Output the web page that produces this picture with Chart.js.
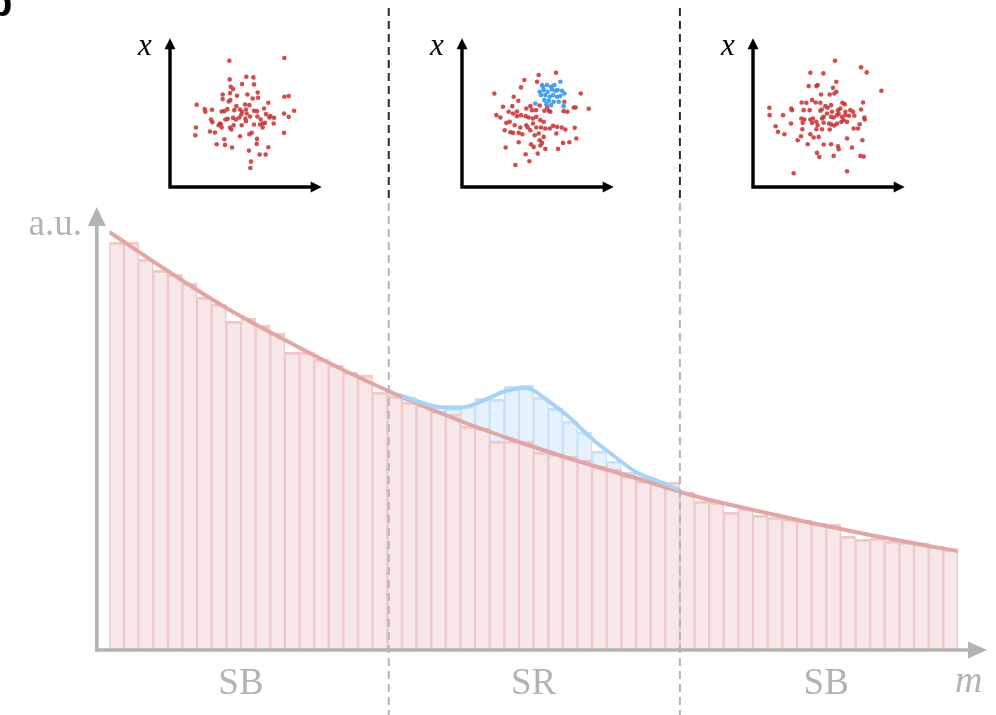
<!DOCTYPE html>
<html>
<head>
<meta charset="utf-8">
<script src="https://cdn.jsdelivr.net/npm/chart.js@4.4.1/dist/chart.umd.min.js"></script>
<style>
  html, body { margin: 0; padding: 0; background: #fff; }
  #wrap { position: relative; width: 996px; height: 715px; overflow: hidden; }
  #wrap canvas { position: absolute; }
</style>
</head>
<body>
<div id="wrap">
  <canvas id="main" width="996" height="715" style="left:0;top:0"></canvas>
  <canvas id="inset0" width="210" height="185"></canvas>
  <canvas id="inset1" width="210" height="185"></canvas>
  <canvas id="inset2" width="210" height="185"></canvas>
</div>
<script>
// ---- histogram in m: 58 equal-width bins, bin i spans [i, i+1] ----
const backgroundCounts = [
  407, 407, 390, 379, 375, 366, 352, 345, 328, 331,
  324, 316, 297, 297, 290, 284, 277, 274, 257, 253,
  247, 244, 238, 235, 223, 221, 208, 208, 208, 197,
  195, 193, 189, 183, 180, 173, 168, 167, 167, 157,
  148, 147, 137, 141, 134, 132, 130, 129, 126, 125,
  113, 110, 111, 108, 107, 106, 103, 100
];
// signal + background in the signal region (bins 19..37)
const srFirstBin = 19;
const totalCounts = [
  256, 252, 246, 243, 241, 243, 251, 250, 263, 264,
  252, 241, 228, 217, 198, 188, 177, 170, 168
];
// fitted background shape
const bkgFitM = [0, 4, 8, 12, 16, 20, 24, 28, 32, 36, 40, 44, 48, 52, 56, 58];
const bkgFitY = [417, 378, 341, 309, 279, 252, 228, 207, 188, 171, 153, 139, 126, 114, 103, 98];
// signal + background shape
const sbFitM = [20, 21, 22.5, 24, 25.5, 27, 28.5, 30, 31.5, 33, 34.5, 36, 37.5, 39];
const sbFitY = [253, 248, 242, 241.5, 248, 257.5, 261, 248, 231, 210, 193, 177, 168, 159];
// signal-region boundaries in m and region names
const srEdges = [19.1, 39];
const regionNames = ['SB', 'SR', 'SB'];
const regionCentres = [9, 29, 49];

// ---- feature scatter in each region ----
const sbLowPoints = [
  [178,378],[343,386],[229,330],[250,328],[179,322],[216,308],[252,307],[182,300],[189,293],[263,283],
  [158,277],[180,281],[201,273],[232,277],[248,265],[264,267],[343,270],[356,272],[158,263],[176,256],
  [181,260],[80,246],[199,242],[225,247],[238,245],[295,252],[104,233],[106,225],[126,231],[155,226],
  [163,227],[172,233],[193,230],[210,232],[216,225],[228,232],[230,220],[252,228],[261,227],[282,235],
  [288,218],[301,212],[312,207],[372,228],[342,220],[356,210],[123,202],[127,194],[146,185],[166,202],
  [173,204],[189,207],[198,202],[208,208],[214,217],[226,205],[240,211],[262,211],[272,202],[278,190],
  [285,192],[298,208],[311,190],[270,187],[78,178],[120,166],[135,163],[152,188],[155,178],[180,178],
  [184,172],[191,185],[215,185],[228,197],[252,187],[278,178],[76,155],[163,143],[210,152],[238,158],
  [245,162],[261,144],[342,162],[140,128],[165,126],[186,118],[260,129],[295,119],[237,109],[269,97],
  [287,97],[243,76],[241,57],[150,190]
];
const srBkgPoints = [
  [230,335],[282,342],[187,320],[225,315],[177,298],[97,280],[155,270],[169,258],[123,240],[151,242],
  [165,226],[193,235],[205,242],[210,230],[222,230],[233,244],[247,228],[260,228],[307,255],[316,225],
  [335,238],[341,238],[356,280],[380,234],[103,215],[115,208],[140,225],[153,220],[165,212],[177,215],
  [191,212],[200,208],[213,205],[223,210],[235,200],[245,195],[133,192],[143,195],[158,185],[175,178],
  [193,185],[197,178],[213,190],[223,178],[237,178],[250,175],[263,175],[273,183],[285,180],[299,178],
  [310,172],[338,177],[128,170],[145,164],[153,162],[170,162],[205,170],[230,160],[245,150],[283,160],
  [343,145],[170,134],[207,128],[215,120],[233,140],[240,132],[250,114],[288,114],[303,132],[322,134],
  [131,118],[191,98],[227,100],[160,66],[202,77],[235,124],[181,158],[218,155],[255,238],[265,225],
  [305,227]
];
const srSigPoints = [
  [240,305],[255,305],[267,300],[295,315],[233,285],[245,290],[257,285],[270,292],[280,288],[287,290],
  [300,288],[237,275],[250,275],[263,270],[273,275],[285,270],[295,272],[307,280],[247,260],[260,258],
  [275,255],[290,255],[220,250],[253,248],[267,245],[305,242],[243,300],[277,305]
];
const sbHighPoints = [
  [246,378],[324,358],[341,343],[172,342],[211,340],[250,315],[167,302],[190,302],[194,305],[240,297],
  [385,288],[250,285],[204,277],[230,277],[244,280],[177,260],[188,253],[202,252],[146,253],[160,252],
  [217,242],[234,245],[268,252],[275,248],[330,253],[49,237],[115,235],[117,230],[152,230],[170,230],
  [202,228],[206,232],[224,237],[255,230],[262,235],[277,225],[292,230],[300,225],[324,232],[50,215],
  [90,215],[145,205],[154,202],[172,202],[180,205],[190,195],[207,205],[212,210],[234,210],[242,208],
  [252,215],[257,220],[267,210],[277,215],[288,213],[304,213],[334,208],[335,202],[114,190],[149,192],
  [177,192],[194,185],[212,192],[228,190],[235,187],[244,184],[252,190],[265,195],[272,200],[282,195],
  [320,188],[68,182],[148,173],[190,173],[207,173],[230,172],[302,175],[315,175],[75,165],[94,158],
  [172,158],[182,148],[197,150],[144,152],[134,140],[282,145],[328,140],[164,128],[212,127],[234,128],
  [255,122],[257,113],[297,118],[192,102],[199,90],[242,93],[322,93],[332,91],[122,41],[282,47],
  [237,225],[222,220]
];

// ---- styling ----
const C = {
  bkgFill: '#f8e7e8', bkgEdge: '#efc8c9', bkgLine: '#e3a6a6',
  sigFill: '#e5f1fd', sigEdge: '#c8e1fa', sigLine: '#a9d2f7',
  axisGrey: '#b3b3b3', dashTop: '#2a2a2a', dashLow: '#b5b5b5',
  dotRed: 'rgba(200,55,55,0.88)', dotBlue: 'rgba(55,152,240,0.92)'
};
const serif = '"Liberation Serif", "DejaVu Serif", serif';

const bkgBars = backgroundCounts.map((v, i) => ({ x: i + 0.5, y: v }));
const totBars = totalCounts.map((v, i) => ({ x: srFirstBin + i + 0.5, y: v }));
const bkgFit = bkgFitM.map((m, i) => ({ x: m, y: bkgFitY[i] }));
const sbFit = sbFitM.map((m, i) => ({ x: m, y: sbFitY[i] }));

function seg(ctx, x1, y1, x2, y2) {
  ctx.beginPath(); ctx.moveTo(x1, y1); ctx.lineTo(x2, y2); ctx.stroke();
}

// dashed region boundaries, arrows and labels on the main histogram
const histDecor = {
  id: 'histDecor',
  afterDatasetsDraw(chart) {
    const { ctx, scales: { x } } = chart;
    ctx.save();
    ctx.lineWidth = 2;
    ctx.setLineDash([8, 5]);
    srEdges.forEach(v => {
      const px = x.getPixelForValue(v);
      ctx.strokeStyle = C.dashTop; seg(ctx, px, 8, px, 198);
      ctx.strokeStyle = C.dashLow; seg(ctx, px, 203, px, 715);
    });
    ctx.restore();
  },
  afterDraw(chart) {
    const { ctx, chartArea: a, scales: { x } } = chart;
    const ax = a.left - 12.5, ay = a.bottom + 1;
    ctx.save();
    ctx.strokeStyle = C.axisGrey; ctx.fillStyle = C.axisGrey;
    ctx.lineWidth = 3.6; ctx.lineCap = 'butt';
    seg(ctx, ax, ay + 1.8, ax, 222);
    seg(ctx, ax - 1.8, ay, 972, ay);
    ctx.beginPath(); ctx.moveTo(ax, 207); ctx.lineTo(ax - 9, 226); ctx.lineTo(ax + 9, 226); ctx.closePath(); ctx.fill();
    ctx.beginPath(); ctx.moveTo(987, ay); ctx.lineTo(968, ay - 8.5); ctx.lineTo(968, ay + 8.5); ctx.closePath(); ctx.fill();

    ctx.font = '37px ' + serif;
    ctx.textAlign = 'center'; ctx.textBaseline = 'alphabetic';
    regionNames.forEach((t, i) => ctx.fillText(t, x.getPixelForValue(regionCentres[i]), 694));
    ctx.textAlign = 'right';
    ctx.fillText('a.u.', 82, 235);
    ctx.font = 'italic 38px ' + serif;
    ctx.textAlign = 'left';
    ctx.fillText('m', 955, 692);

    // panel letter, clipped by the page edge
    ctx.fillStyle = '#000';
    ctx.font = 'bold 40px "Liberation Sans", Arial, sans-serif';
    ctx.fillText('b', -12, 16);
    ctx.restore();
  }
};

new Chart(document.getElementById('main'), {
  type: 'bar',
  data: {
    datasets: [
      { data: totBars, backgroundColor: C.sigFill, borderColor: C.sigEdge,
        borderWidth: { top: 3, left: 1.5, right: 1.5, bottom: 0 }, borderSkipped: false,
        grouped: false, barPercentage: 1, categoryPercentage: 1, order: 4 },
      { data: bkgBars, backgroundColor: C.bkgFill, borderColor: C.bkgEdge,
        borderWidth: { top: 3, left: 1.5, right: 1.5, bottom: 0 }, borderSkipped: false,
        grouped: false, barPercentage: 1, categoryPercentage: 1, order: 3 },
      { type: 'line', data: bkgFit, borderColor: C.bkgLine, borderWidth: 4,
        pointRadius: 0, cubicInterpolationMode: 'monotone', fill: false, order: 2 },
      { type: 'line', data: sbFit, borderColor: C.sigLine, borderWidth: 4,
        pointRadius: 0, cubicInterpolationMode: 'monotone', fill: false, order: 1 }
    ]
  },
  options: {
    responsive: false, animation: false, events: [],
    layout: { padding: { left: 109.3, right: 38.1, top: 208, bottom: 66 } },
    scales: {
      x: { type: 'linear', min: 0, max: 58, offset: false, display: false, grid: { offset: false } },
      y: { type: 'linear', min: 0, max: 441, display: false }
    },
    plugins: { legend: { display: false }, tooltip: { enabled: false } }
  },
  plugins: [histDecor]
});

// ---- small feature-space panels ----
const insetAxes = {
  id: 'insetAxes',
  afterDraw(chart) {
    const { ctx, chartArea: a } = chart;
    ctx.save();
    ctx.strokeStyle = '#000'; ctx.fillStyle = '#000';
    ctx.lineWidth = 3.4; ctx.lineJoin = 'miter';
    ctx.beginPath();
    ctx.moveTo(a.left, a.top + 8); ctx.lineTo(a.left, a.bottom); ctx.lineTo(a.right - 8, a.bottom);
    ctx.stroke();
    ctx.beginPath(); ctx.moveTo(a.left, a.top); ctx.lineTo(a.left - 5.5, a.top + 11); ctx.lineTo(a.left + 5.5, a.top + 11); ctx.closePath(); ctx.fill();
    ctx.beginPath(); ctx.moveTo(a.right, a.bottom); ctx.lineTo(a.right - 11, a.bottom - 5.5); ctx.lineTo(a.right - 11, a.bottom + 5.5); ctx.closePath(); ctx.fill();
    ctx.font = 'italic 31px ' + serif;
    ctx.textAlign = 'center';
    ctx.fillText('x', a.left - 25, a.top + 17);
    ctx.restore();
  }
};

const panels = [
  { id: 'inset0', originX: 170, sets: [{ pts: sbLowPoints, color: C.dotRed }] },
  { id: 'inset1', originX: 461.7, sets: [{ pts: srBkgPoints, color: C.dotRed }, { pts: srSigPoints, color: C.dotBlue }] },
  { id: 'inset2', originX: 752.7, sets: [{ pts: sbHighPoints, color: C.dotRed }] }
];

panels.forEach(p => {
  const cv = document.getElementById(p.id);
  cv.style.left = (p.originX - 45) + 'px';
  cv.style.top = '15px';
  new Chart(cv, {
    type: 'scatter',
    data: {
      datasets: p.sets.map((s, k) => ({
        data: s.pts.map(([u, v]) => ({ x: u, y: v })),
        backgroundColor: s.color, borderWidth: 0, pointRadius: 2.3,
        order: p.sets.length - k
      }))
    },
    options: {
      responsive: false, animation: false, events: [],
      layout: { padding: { left: 45, right: 13.3, top: 23.3, bottom: 13 } },
      scales: {
        x: { type: 'linear', min: 0, max: 455, display: false },
        y: { type: 'linear', min: 0, max: 445, display: false }
      },
      plugins: { legend: { display: false }, tooltip: { enabled: false } }
    },
    plugins: [insetAxes]
  });
});
</script>
</body>
</html>
